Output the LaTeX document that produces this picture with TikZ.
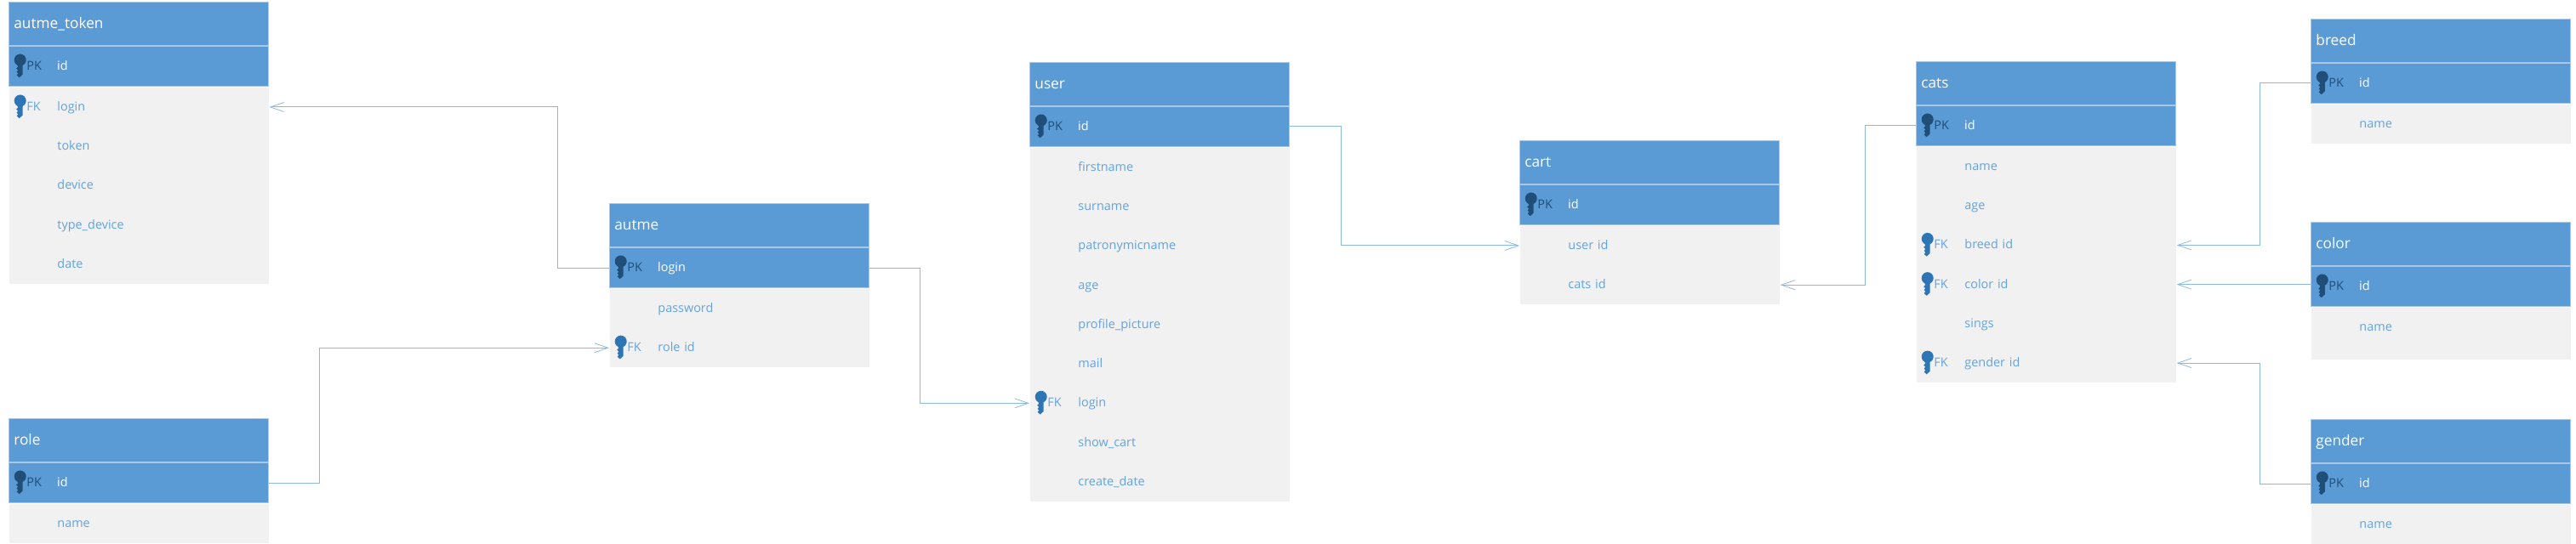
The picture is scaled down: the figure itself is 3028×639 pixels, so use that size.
\documentclass[tikz,border=0pt]{standalone}
\usepackage{fontspec}
\setmainfont{Open Sans}
\usetikzlibrary{arrows.meta}
\catcode`\_=12
\definecolor{erblue}{HTML}{5B9BD5}
\definecolor{erlight}{HTML}{A9C8E8}
\definecolor{erbody}{HTML}{F1F1F1}
\definecolor{ertext}{HTML}{64A3DC}
\definecolor{erdark}{HTML}{1F4E79}
\definecolor{erkeyfk}{HTML}{2E75B6}
\tikzset{
  erbox/.style={anchor=north west, inner xsep=.06cm, inner ysep=0, text width=2.93cm, align=left},
  erhead/.style={erbox, fill=erblue, draw=erlight, line width=.008cm, minimum height=.51cm, text=white, font=\fontsize{4.9}{6}\selectfont, text height=.15cm, text depth=.04cm},
  erpk/.style={erbox, fill=erblue, draw=erlight, line width=.008cm, minimum height=.475cm, text=white, font=\fontsize{4.1}{5}\selectfont, text height=.115cm, text depth=.034cm},
  errow/.style={erbox, fill=erbody, minimum height=.462cm, text=ertext, font=\fontsize{4.1}{5}\selectfont, text height=.125cm, text depth=.036cm},
  erlabel/.style={anchor=west, inner sep=0, font=\fontsize{4.1}{5}\selectfont, text height=.125cm, text depth=.036cm},
  erkey/.pic={
    \path[pic actions] (0,0) circle (.07cm);
    \path[pic actions] (-4,4) -- (3,4) -- (3,17) -- (-1,20.7) -- (-4,18) -- (-2.5,16) -- (-4,14) -- (-2.5,12) -- (-4.5,10) -- (-2.5,8) -- cycle;
  },
  erlink/.style={draw=erblue!70, line width=.01cm, arrows={-Straight Barb[length=.16cm,width=.11cm,line width=.008cm]}}
}
% title, x, y, primary key, rows (name/FK)
\newcommand{\ertable}[5]{
  \node[erhead] (#1) at (#2,#3) {#1};
  \node[erpk] (#1-#4) at (#1.south west) {\hspace*{.507cm}#4};
  \pic[fill=erdark] at ([xshift=.137cm,yshift=.075cm]#1-#4.west) {erkey};
  \node[erlabel, text=erdark] (#1-#4-key) at ([xshift=.207cm]#1-#4.west) {PK};
  \foreach \n/\k [count=\i from 0] in {#5}
  {
    \node[errow] (#1-\n) at ([yshift=-\i*.462cm]#1-#4.south west) {\hspace*{.507cm}\n};
    \ifx\k\empty\else
      \pic[fill=erkeyfk] at ([xshift=.137cm,yshift=.075cm]#1-\n.west) {erkey};
      \node[erlabel, text=ertext] (#1-\n-key) at ([xshift=.207cm]#1-\n.west) {\k};
    \fi
  }
  \draw[white, line width=.012cm, densely dotted] (#1-#4.south west) -- (#1-#4.south east);
}
\begin{document}
\begin{tikzpicture}[x=.01cm, y=-.01cm]
  \useasboundingbox (0,0) rectangle (3028,639);
  \ertable{autme_token}{10}{2}{id}{login/FK,token/,device/,type_device/,date/}
  \ertable{role}{10}{492}{id}{name/}
  \ertable{autme}{716}{239}{login}{password/,role id/FK}
  \ertable{user}{1210}{73}{id}{firstname/,surname/,patronymicname/,age/,profile_picture/,mail/,login/FK,show_cart/,create_date/}
  \ertable{cart}{1786}{165}{id}{user id/,cats id/}
  \ertable{cats}{2252}{72}{id}{name/,age/,breed id/FK,color id/FK,sings/,gender id/FK}
  \ertable{breed}{2716}{22}{id}{name/}
  \ertable{color}{2716}{261}{id}{name/}
  \node[errow, minimum height=.15cm, text height=0pt, text depth=0pt] (color-end) at ([yshift=.02cm]color-name.south west) {};
  \ertable{gender}{2716}{493}{id}{name/}

  \draw[erlink] (autme-login.west) -- ++(-61,0) |- (autme_token-login.east);
  \draw[erlink] (role-id.east) -- ++(60,0) |- (autme-role id.west);
  \draw[erlink] (autme-login.east) -- ++(60,0) |- (user-login.west);
  \draw[erlink] (user-id.east) -- ++(60,0) |- (cart-user id.west);
  \draw[erlink] (cats-id.west) -- ++(-60,0) |- (cart-cats id.east);
  \draw[erlink] (breed-id.west) -- ++(-60,0) |- (cats-breed id.east);
  \draw[erlink] (cats-color id.east -| color-id.west) -- (cats-color id.east);
  \draw[erlink] (gender-id.west) -- ++(-60,0) |- (cats-gender id.east);
\end{tikzpicture}
\end{document}
